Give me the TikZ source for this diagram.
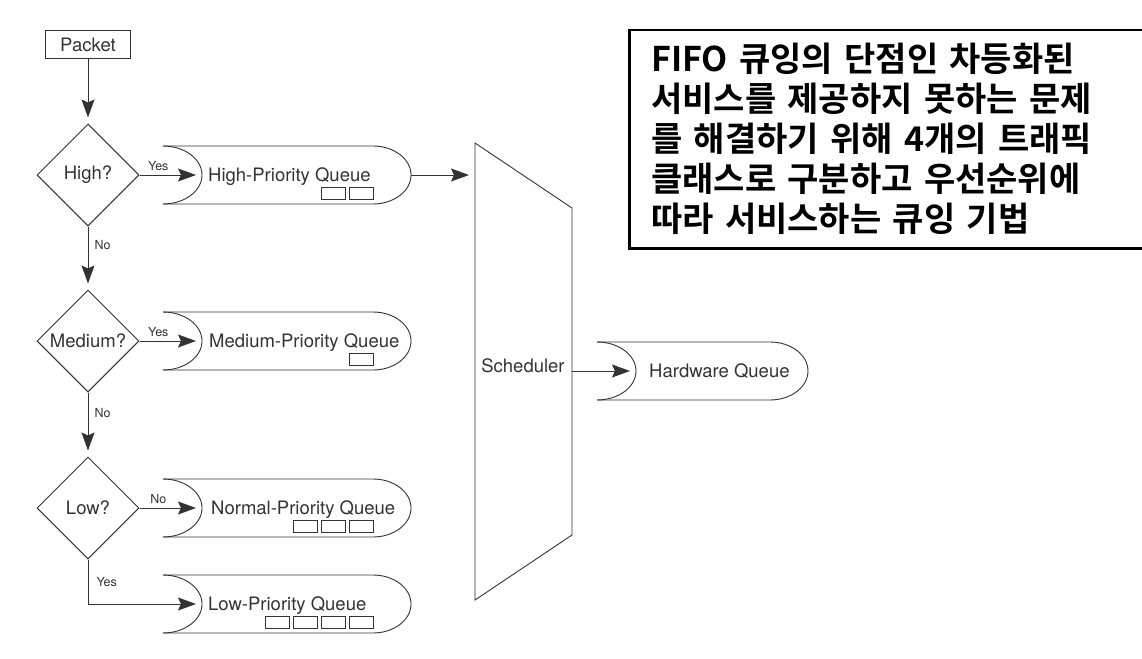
\documentclass[tikz,border=0pt]{standalone}
\usepackage{fontspec}
\setmainfont{TeX Gyre Heros}
\newfontfamily\krfont{Noto Sans CJK KR}[BoldFont={Noto Sans CJK KR Bold}]
\usetikzlibrary{shapes.geometric,arrows.meta}

\definecolor{ink}{HTML}{333333}

\tikzset{
  qtext/.style={text=ink,inner sep=0pt,font=\fontsize{18.5}{22}\selectfont},
  box/.style={qtext,draw=ink,line width=1pt,minimum width=85pt,minimum height=28pt},
  test/.style={qtext,draw=ink,line width=1pt,shape=diamond,aspect=1,minimum size=102pt},
  flow/.style={draw=ink,line width=1pt,-{Stealth[length=18pt,width=13pt,inset=3pt]},shorten >=6pt},
  lab/.style={text=ink,inner sep=1pt,font=\fontsize{12.5}{14}\selectfont},
  qline/.style={draw=ink,line width=0.9pt},
  slot/.style={draw=ink,line width=0.9pt},
  note/.style={draw=black,line width=2.5pt,anchor=north west,minimum width=540pt,minimum height=218pt,
    text width=496pt,inner xsep=22pt,align=left,font=\krfont\bfseries\fontsize{34}{40}\selectfont},
  pics/queue/.style n args={3}{code={
    \draw[qline] (0,29) -- (#2,29) arc[start angle=90,end angle=-90,x radius=38,y radius=29] -- (0,-29);
    \draw[qline] (0,29) arc[start angle=90,end angle=-90,x radius=39,y radius=29];
    \coordinate (-in) at (39,0);
    \coordinate (-out) at (#2+38,0);
    \node[qtext,anchor=base west] (-name) at (#3,-6.5) {#1};
  }},
}

\begin{document}
\begin{tikzpicture}[x=1pt,y=1pt]
  \useasboundingbox (0,0) rectangle (1142,-658);

  % classification
  \node[box] (pkt) at (88,-45) {Packet};
  \node[test] (high) at (88,-175) {High?};
  \node[test] (med) at (88,-341) {Medium?};
  \node[test] (low) at (88,-508) {Low?};

  % queues
  \pic (hq) at (163,-175) {queue={High-Priority Queue}{210}{45}};
  \pic (mq) at (163,-341) {queue={Medium-Priority Queue}{210}{46}};
  \pic (nq) at (163,-508) {queue={Normal-Priority Queue}{210}{48}};
  \pic (lq) at (163,-604) {queue={Low-Priority Queue}{210}{45}};
  \pic (hw) at (597,-371) {queue={Hardware Queue}{173}{52}};

  \foreach \q/\n in {hq/2,mq/1,nq/3,lq/4}
    \foreach \i in {1,...,\n}
      \draw[slot] ([xshift={-34-28*\i},yshift=-12]\q-out) rectangle ++(24,-12);

  % scheduler
  \coordinate (s1) at (475,-143);
  \coordinate (s2) at (572,-208);
  \coordinate (s3) at (572,-535);
  \coordinate (s4) at (475,-600);
  \draw[qline] (s1) -- (s2) -- (s3) -- (s4) -- cycle;
  \node[qtext] (sched) at (523,-366) {Scheduler};
  \coordinate (sched-in) at (475,-175);
  \coordinate (sched-out) at (572,-371);

  % flow
  \draw[flow] (pkt) -- (high);
  \draw[flow] (high) -- node[lab,above=3pt,pos=0.3] {Yes} (hq-in);
  \draw[flow] (high) -- node[lab,right=5pt,pos=0.3] {No} (med);
  \draw[flow] (med) -- node[lab,above=3pt,pos=0.3] {Yes} (mq-in);
  \draw[flow] (med) -- node[lab,right=5pt,pos=0.32] {No} (low);
  \draw[flow] (low) -- node[lab,above=3pt,pos=0.3] {No} (nq-in);
  \draw[flow] (low) |- node[lab,right=7pt,pos=0.25] {Yes} (lq-in);
  \draw[flow] (hq-out) -- (sched-in);
  \draw[flow] (sched-out) -- (hw-in);

  % description
  \node[note] (desc) at (628,-29) {FIFO 큐잉의 단점인 차등화된\\
    서비스를 제공하지 못하는 문제\\
    를 해결하기 위해 4개의 트래픽\\
    클래스로 구분하고 우선순위에\\
    따라 서비스하는 큐잉 기법};
\end{tikzpicture}
\end{document}
